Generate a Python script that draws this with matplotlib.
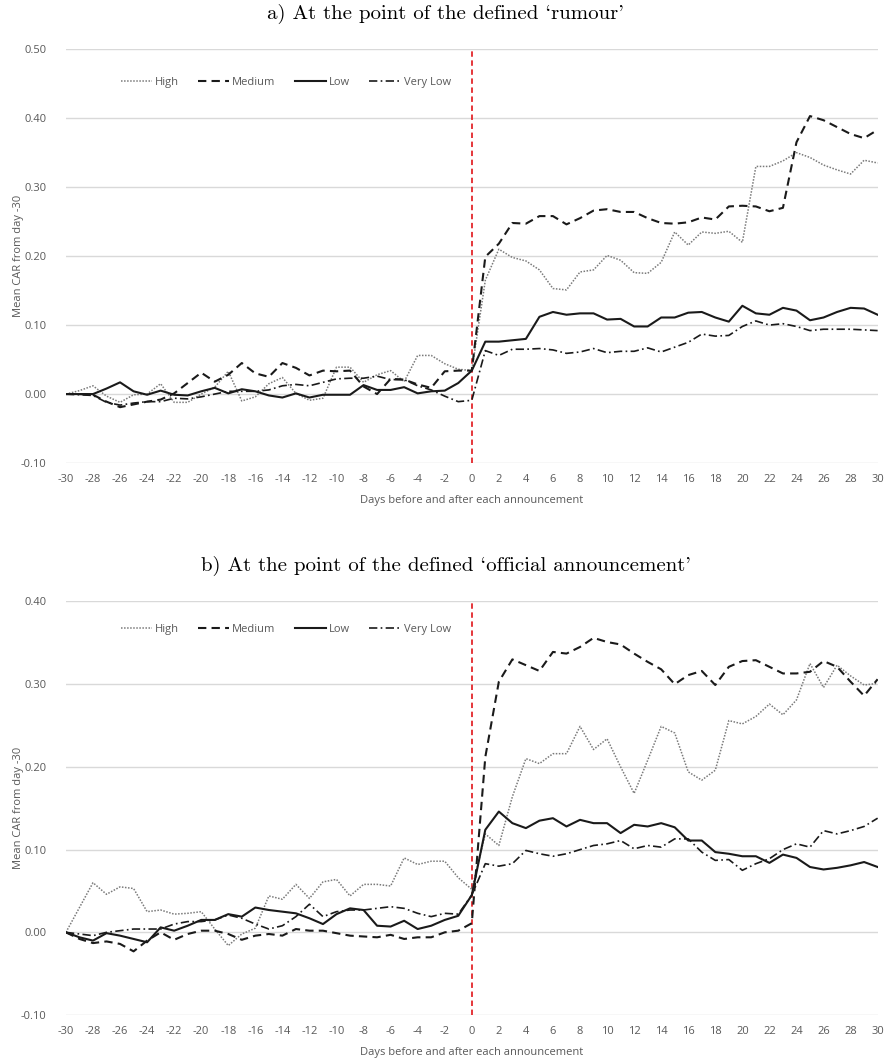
import matplotlib
matplotlib.use("Agg")
import matplotlib.pyplot as plt
import numpy as np

plt.rcParams.update({
    "font.family": "sans-serif",
    "font.sans-serif": ["Open Sans", "DejaVu Sans"],
    "axes.unicode_minus": False,
})

days = list(range(-30, 31))
tick_days = list(range(-30, 31, 2))
series_names = ["High", "Medium", "Low", "Very Low"]

# panel a) rumour
rum_high = [0.000, 0.005, 0.012, -0.003, -0.012, -0.001, 0.000, 0.015, -0.012, -0.012,
            0.000, 0.010, 0.033, -0.010, -0.004, 0.015, 0.024, 0.001, -0.009, -0.006,
            0.039, 0.039, 0.017, 0.028, 0.034, 0.018, 0.056, 0.056, 0.044, 0.036,
            0.034,
            0.165, 0.210, 0.198, 0.193, 0.180, 0.153, 0.151, 0.177, 0.180, 0.201,
            0.194, 0.176, 0.175, 0.191, 0.235, 0.216, 0.235, 0.233, 0.236, 0.220,
            0.330, 0.330, 0.338, 0.350, 0.343, 0.332, 0.325, 0.319, 0.339, 0.335]
rum_medium = [0.000, 0.000, -0.001, -0.011, -0.019, -0.015, -0.011, -0.008, 0.001, 0.016,
              0.031, 0.018, 0.028, 0.045, 0.030, 0.025, 0.045, 0.038, 0.027, 0.034,
              0.033, 0.034, 0.011, 0.000, 0.022, 0.021, 0.014, 0.009, 0.033, 0.034,
              0.034,
              0.199, 0.218, 0.248, 0.247, 0.258, 0.258, 0.246, 0.255, 0.266, 0.268,
              0.264, 0.264, 0.255, 0.248, 0.247, 0.249, 0.256, 0.253, 0.272, 0.273,
              0.272, 0.265, 0.270, 0.365, 0.403, 0.397, 0.387, 0.377, 0.371, 0.383]
rum_low = [0.000, 0.000, 0.000, 0.008, 0.017, 0.004, -0.001, 0.005, -0.001, -0.002,
           0.004, 0.009, 0.001, 0.007, 0.004, -0.002, -0.005, 0.001, -0.005, -0.001,
           -0.001, -0.001, 0.013, 0.006, 0.006, 0.010, 0.001, 0.004, 0.005, 0.016,
           0.034,
           0.076, 0.076, 0.078, 0.080, 0.112, 0.119, 0.115, 0.117, 0.117, 0.108,
           0.109, 0.098, 0.098, 0.111, 0.111, 0.118, 0.119, 0.111, 0.105, 0.128,
           0.117, 0.115, 0.125, 0.121, 0.107, 0.111, 0.119, 0.125, 0.124, 0.115]
rum_vlow = [0.000, -0.001, -0.002, -0.012, -0.016, -0.013, -0.011, -0.011, -0.006, -0.007,
            -0.004, 0.000, 0.004, 0.004, 0.004, 0.006, 0.012, 0.014, 0.012, 0.017,
            0.022, 0.023, 0.023, 0.026, 0.021, 0.021, 0.012, 0.006, -0.003, -0.011,
            -0.009,
            0.063, 0.056, 0.065, 0.065, 0.066, 0.064, 0.059, 0.061, 0.066, 0.060,
            0.062, 0.062, 0.067, 0.061, 0.068, 0.075, 0.087, 0.084, 0.085, 0.098,
            0.106, 0.100, 0.102, 0.098, 0.092, 0.094, 0.094, 0.094, 0.093, 0.092]

# panel b) official announcement
off_high = [0.000, 0.030, 0.060, 0.046, 0.055, 0.053, 0.025, 0.027, 0.022, 0.023,
            0.025, 0.004, -0.016, -0.002, 0.005, 0.044, 0.040, 0.058, 0.041, 0.061,
            0.064, 0.044, 0.058, 0.058, 0.056, 0.090, 0.082, 0.086, 0.086, 0.066,
            0.052,
            0.119, 0.105, 0.164, 0.210, 0.204, 0.216, 0.216, 0.249, 0.221, 0.234,
            0.200, 0.168, 0.208, 0.249, 0.241, 0.194, 0.184, 0.196, 0.256, 0.252,
            0.261, 0.276, 0.263, 0.281, 0.325, 0.296, 0.323, 0.310, 0.299, 0.301]
off_medium = [0.000, -0.008, -0.013, -0.011, -0.014, -0.023, -0.010, 0.000, -0.009, -0.002,
              0.002, 0.002, -0.002, -0.009, -0.004, -0.002, -0.004, 0.004, 0.002, 0.002,
              -0.001, -0.004, -0.005, -0.006, -0.003, -0.008, -0.006, -0.006, 0.000, 0.002,
              0.011,
              0.212, 0.303, 0.330, 0.323, 0.316, 0.339, 0.337, 0.345, 0.356, 0.351,
              0.348, 0.337, 0.327, 0.318, 0.300, 0.311, 0.316, 0.299, 0.321, 0.328,
              0.329, 0.321, 0.313, 0.313, 0.315, 0.328, 0.321, 0.303, 0.286, 0.306]
off_low = [0.000, -0.006, -0.010, -0.001, -0.004, -0.008, -0.012, 0.006, 0.002, 0.008,
           0.015, 0.015, 0.022, 0.019, 0.030, 0.027, 0.025, 0.023, 0.017, 0.010,
           0.022, 0.029, 0.027, 0.008, 0.007, 0.014, 0.004, 0.008, 0.015, 0.020,
           0.045,
           0.124, 0.146, 0.132, 0.126, 0.135, 0.138, 0.128, 0.136, 0.132, 0.132,
           0.120, 0.130, 0.128, 0.132, 0.127, 0.111, 0.111, 0.097, 0.095, 0.092,
           0.092, 0.084, 0.094, 0.090, 0.079, 0.076, 0.078, 0.081, 0.085, 0.079]
off_vlow = [0.000, -0.002, -0.004, 0.000, 0.002, 0.004, 0.004, 0.004, 0.010, 0.013,
            0.013, 0.015, 0.021, 0.017, 0.010, 0.004, 0.008, 0.019, 0.034, 0.019,
            0.025, 0.027, 0.027, 0.029, 0.031, 0.029, 0.023, 0.019, 0.023, 0.022,
            0.045,
            0.083, 0.080, 0.083, 0.099, 0.095, 0.092, 0.095, 0.100, 0.105, 0.107,
            0.111, 0.101, 0.105, 0.103, 0.113, 0.113, 0.097, 0.087, 0.088, 0.075,
            0.083, 0.089, 0.100, 0.107, 0.103, 0.123, 0.119, 0.123, 0.128, 0.138]

styles = [
    dict(color="#7a7a7a", linestyle=(0, (1, 1)), linewidth=1.1),
    dict(color="#1a1a1a", linestyle=(0, (4, 2.5)), linewidth=1.5),
    dict(color="#1a1a1a", linestyle="-", linewidth=1.5),
    dict(color="#1a1a1a", linestyle=(0, (5, 2, 1, 2)), linewidth=1.2),
]

TXT = "#595959"


def draw_panel(ax, data, ymin, ymax, leg_y):
    for vals, name, st in zip(data, series_names, styles):
        ax.plot(days, vals, label=name, **st)
    ax.set_xlim(-30, 30)
    ax.set_ylim(ymin, ymax)
    yt = np.arange(ymin, ymax + 0.001, 0.10)
    ax.set_yticks(yt)
    ax.set_yticklabels([f"{v:.2f}" for v in yt])
    ax.set_xticks(tick_days)
    ax.yaxis.grid(True, color="#d9d9d9", linewidth=1.0)
    ax.set_axisbelow(True)
    for s in ax.spines.values():
        s.set_visible(False)
    ax.tick_params(length=0, labelsize=8, colors=TXT)
    ax.tick_params(axis="y", pad=14)
    ax.tick_params(axis="x", pad=8)
    ax.axvline(0, color="#e3262b", linestyle=(0, (3, 2)), linewidth=1.3, zorder=1)
    ax.set_ylabel("Mean CAR from day -30", fontsize=8, color=TXT, labelpad=-2)
    ax.set_xlabel("Days before and after each announcement", fontsize=8, color=TXT, labelpad=7)
    leg = ax.legend(loc="center left", bbox_to_anchor=(0.055, leg_y), ncol=4,
                    frameon=False, fontsize=8, handlelength=2.8,
                    columnspacing=1.7, handletextpad=0.3)
    for t in leg.get_texts():
        t.set_color(TXT)


fig = plt.figure(figsize=(8.91, 10.64), dpi=100)
ax1 = fig.add_axes([0.074, 0.5648, 0.911, 0.389])
ax2 = fig.add_axes([0.074, 0.046, 0.911, 0.3887])

draw_panel(ax1, [rum_high, rum_medium, rum_low, rum_vlow], -0.10, 0.50, 0.92)
draw_panel(ax2, [off_high, off_medium, off_low, off_vlow], -0.10, 0.40, 0.933)

# titles in a TeX-like serif, centred on the figure
fig.text(0.5, 1 - 14 / 1064, "a) At the point of the defined `rumour'",
         family=["cmr10", "DejaVu Serif"], fontsize=15, ha="center", va="center")
fig.text(0.5, 1 - 566 / 1064, "b) At the point of the defined `official announcement'",
         family=["cmr10", "DejaVu Serif"], fontsize=15, ha="center", va="center")

fig.savefig("out.png", dpi=100)
